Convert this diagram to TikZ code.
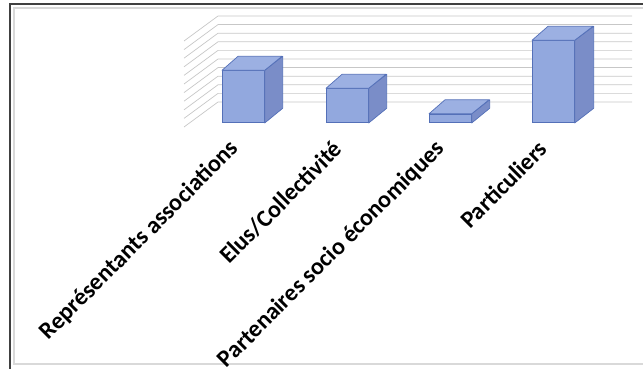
\documentclass[tikz,border=0pt]{standalone}
\usepackage{fontspec}
\setmainfont{Carlito}
\usetikzlibrary{positioning}

\definecolor{barEdge}{RGB}{84,112,184}
\definecolor{barFront}{RGB}{146,168,222}
\definecolor{barSide}{RGB}{122,141,200}
\definecolor{barTop}{RGB}{156,176,226}

\begin{document}
\begin{tikzpicture}[x=1pt, y=-1pt,
    gridline/.style={draw=black!22, line width=0.7pt},
    frameouter/.style={draw=black!75, line width=1.4pt},
    frameinner/.style={draw=black!15, line width=1.6pt},
    barfront/.style={rectangle, draw=barEdge, fill=barFront, line width=0.7pt,
                     minimum width=42pt, inner sep=0pt, anchor=south west},
    barface/.style={draw=barEdge, line width=0.7pt, line join=round},
    catlabel/.style={font=\bfseries\fontsize{24}{26}\selectfont, rotate=45,
                     anchor=east, inner sep=0pt},
]
    \useasboundingbox (0,0) rectangle (643,369);

    % frame of the chart
    \draw[frameinner] (643,8) -- (14,8) -- (14,364) -- (643,364);
    \draw[frameouter] (643,4) -- (10,4) -- (10,369);

    % back wall and side wall grid
    \foreach \k in {0,...,10}
        \draw[gridline] (184,{41+\k*8.6}) -- (218,{16+\k*8.6}) -- (632,{16+\k*8.6});

    % bars
    \node[barfront, minimum height=52pt] (rep)  at (222,123) {};
    \node[barfront, minimum height=34pt] (elus) at (326,123) {};
    \node[barfront, minimum height=8.5pt] (part) at (429,123) {};
    \node[barfront, minimum height=82pt] (parti) at (532,123) {};

    \draw[barface, fill=barSide] (rep.south east) -- (rep.north east) -- ++(18,-14) -- ++(0,52) -- cycle;
    \draw[barface, fill=barTop]  (rep.north west) -- ++(16,-14) -- ++(44,0) -- (rep.north east) -- cycle;
    \draw[barface, fill=barSide] (elus.south east) -- (elus.north east) -- ++(18,-14) -- ++(0,34) -- cycle;
    \draw[barface, fill=barTop]  (elus.north west) -- ++(16,-14) -- ++(44,0) -- (elus.north east) -- cycle;
    \draw[barface, fill=barSide] (part.south east) -- (part.north east) -- ++(18,-14) -- ++(0,8.5) -- cycle;
    \draw[barface, fill=barTop]  (part.north west) -- ++(16,-14) -- ++(44,0) -- (part.north east) -- cycle;
    \draw[barface, fill=barSide] (parti.south east) -- (parti.north east) -- ++(19,-14) -- ++(0,82) -- cycle;
    \draw[barface, fill=barTop]  (parti.north west) -- ++(16,-14) -- ++(45,0) -- (parti.north east) -- cycle;

    % category labels
    \node[catlabel] (lblrep)   at (235,145) {Représentants associations};
    \node[catlabel] (lblelus)  at (338,145) {Elus/Collectivité};
    \node[catlabel] (lblpart)  at (441,145) {Partenaires socio économiques};
    \node[catlabel] (lblparti) at (543,145) {Particuliers};
\end{tikzpicture}
\end{document}
